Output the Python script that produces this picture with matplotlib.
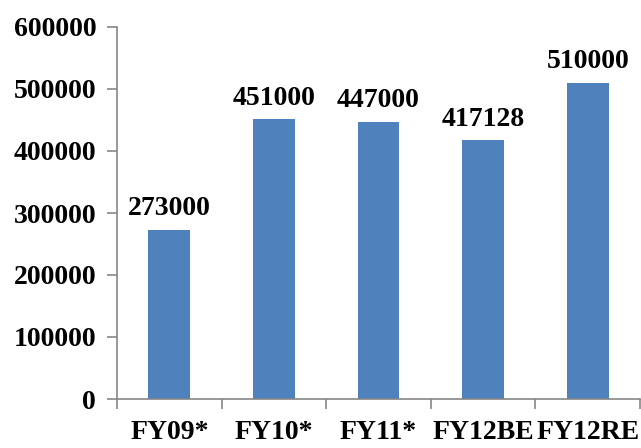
import matplotlib
matplotlib.use("Agg")
import matplotlib.pyplot as plt
import numpy as np

categories = ["FY09*", "FY10*", "FY11*", "FY12BE", "FY12RE"]
values = [273000, 451000, 447000, 417128, 510000]
yticks = [0, 100000, 200000, 300000, 400000, 500000, 600000]

plt.rcParams['font.family'] = ['Liberation Serif', 'DejaVu Serif']
plt.rcParams['font.weight'] = 'bold'

fig = plt.figure(figsize=(6.41, 4.48), dpi=100)
ax = fig.add_axes([117/641, 1-399/448, (640-117)/641, (399-27)/448])

FS = 20
x = np.arange(len(categories))
bars = ax.bar(x, values, width=0.4, color='#4F81BD', zorder=2)
for xi, v in zip(x, values):
    ax.text(xi, v + 14000, str(v), ha='center', va='bottom', fontsize=FS, fontweight='bold')

ax.set_xlim(-0.5, len(categories) - 0.5)
ax.set_ylim(0, 600000)
ax.set_yticks(yticks)
ax.set_yticklabels([str(t) for t in yticks], fontsize=FS, fontweight='bold')
ax.set_xticks(x)
ax.set_xticklabels(categories, fontsize=FS, fontweight='bold')
ax.tick_params(axis='x', which='major', length=0, pad=15)
ax.set_xticks(np.arange(len(categories) + 1) - 0.5, minor=True)
ax.tick_params(axis='x', which='minor', length=7, color='#868686', width=1.2)
ax.tick_params(axis='y', length=7, color='#868686', width=1.2, pad=8)

for s in ['top', 'right']:
    ax.spines[s].set_visible(False)
for s in ['left', 'bottom']:
    ax.spines[s].set_color('#868686')
    ax.spines[s].set_linewidth(1.2)

fig.savefig("out.png", dpi=100)
